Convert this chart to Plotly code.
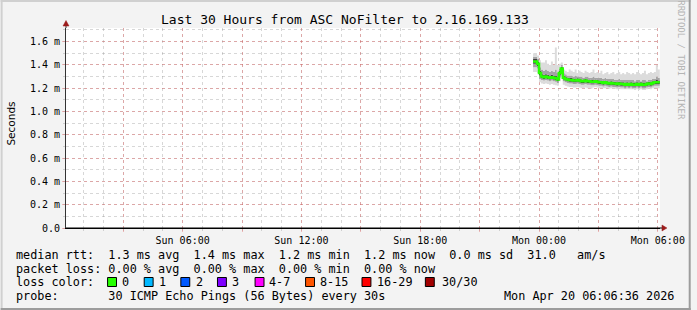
import plotly.graph_objects as go
import pandas as pd

# ---------------- data (milliseconds) ----------------
times = pd.date_range("2026-04-19 23:42", periods=65, freq="6min")

rtt_median = [1.43, 1.43, 1.41, 1.33, 1.30, 1.295, 1.30, 1.295, 1.29, 1.295,
              1.29, 1.285, 1.275, 1.33, 1.37, 1.29, 1.28, 1.275, 1.27, 1.27,
              1.265, 1.265, 1.27, 1.265, 1.26, 1.26, 1.265, 1.26, 1.26, 1.255,
              1.255, 1.26, 1.255, 1.25, 1.25, 1.245, 1.25, 1.245, 1.24, 1.245,
              1.24, 1.24, 1.235, 1.24, 1.235, 1.235, 1.23, 1.235, 1.23, 1.235,
              1.23, 1.23, 1.235, 1.23, 1.235, 1.23, 1.23, 1.235, 1.24, 1.235,
              1.245, 1.25, 1.25, 1.25, 1.25]

rtt_max = [1.50, 1.50, 1.48, 1.44, 1.42, 1.42, 1.44, 1.41, 1.40, 1.43,
           1.40, 1.55, 1.40, 1.41, 1.42, 1.36, 1.35, 1.34, 1.36, 1.35,
           1.34, 1.36, 1.33, 1.35, 1.34, 1.33, 1.35, 1.34, 1.33, 1.34,
           1.36, 1.33, 1.34, 1.33, 1.35, 1.32, 1.33, 1.34, 1.32, 1.33,
           1.34, 1.32, 1.33, 1.34, 1.32, 1.33, 1.32, 1.34, 1.33, 1.32,
           1.33, 1.32, 1.34, 1.33, 1.32, 1.33, 1.35, 1.32, 1.33, 1.34,
           1.33, 1.34, 1.40, 1.36, 1.33]

rtt_p90 = [1.47, 1.47, 1.45, 1.38, 1.36, 1.35, 1.36, 1.35, 1.34, 1.35,
           1.34, 1.36, 1.33, 1.37, 1.40, 1.33, 1.32, 1.31, 1.31, 1.31,
           1.30, 1.31, 1.30, 1.30, 1.30, 1.29, 1.30, 1.30, 1.29, 1.29,
           1.30, 1.29, 1.29, 1.29, 1.29, 1.28, 1.29, 1.28, 1.28, 1.28,
           1.28, 1.27, 1.27, 1.28, 1.27, 1.27, 1.27, 1.27, 1.27, 1.27,
           1.27, 1.26, 1.27, 1.27, 1.26, 1.27, 1.27, 1.26, 1.27, 1.27,
           1.28, 1.28, 1.30, 1.29, 1.28]

rtt_p75 = [1.45, 1.45, 1.43, 1.35, 1.32, 1.315, 1.32, 1.315, 1.31, 1.315,
           1.31, 1.31, 1.30, 1.35, 1.385, 1.31, 1.30, 1.29, 1.29, 1.29,
           1.28, 1.28, 1.285, 1.28, 1.275, 1.275, 1.28, 1.275, 1.275, 1.27,
           1.27, 1.275, 1.27, 1.265, 1.265, 1.26, 1.265, 1.26, 1.255, 1.26,
           1.255, 1.255, 1.25, 1.255, 1.25, 1.25, 1.245, 1.25, 1.245, 1.25,
           1.245, 1.245, 1.25, 1.245, 1.25, 1.245, 1.245, 1.25, 1.255, 1.25,
           1.26, 1.265, 1.27, 1.265, 1.265]

rtt_p25 = [1.41, 1.41, 1.39, 1.31, 1.285, 1.28, 1.285, 1.28, 1.275, 1.28,
           1.275, 1.27, 1.26, 1.31, 1.35, 1.275, 1.265, 1.26, 1.255, 1.255,
           1.25, 1.25, 1.255, 1.25, 1.245, 1.245, 1.25, 1.245, 1.245, 1.24,
           1.24, 1.245, 1.24, 1.235, 1.235, 1.23, 1.235, 1.23, 1.225, 1.23,
           1.225, 1.225, 1.22, 1.225, 1.22, 1.22, 1.215, 1.22, 1.215, 1.22,
           1.215, 1.215, 1.22, 1.215, 1.22, 1.215, 1.215, 1.22, 1.225, 1.22,
           1.23, 1.235, 1.235, 1.235, 1.235]

rtt_p10 = [1.38, 1.38, 1.37, 1.28, 1.27, 1.265, 1.27, 1.265, 1.26, 1.265,
           1.26, 1.255, 1.245, 1.29, 1.33, 1.26, 1.25, 1.245, 1.24, 1.24,
           1.235, 1.235, 1.24, 1.235, 1.23, 1.23, 1.235, 1.23, 1.23, 1.225,
           1.225, 1.23, 1.225, 1.22, 1.22, 1.215, 1.22, 1.215, 1.21, 1.215,
           1.21, 1.21, 1.205, 1.21, 1.205, 1.205, 1.20, 1.205, 1.20, 1.205,
           1.20, 1.20, 1.205, 1.20, 1.205, 1.20, 1.20, 1.205, 1.21, 1.205,
           1.215, 1.22, 1.22, 1.22, 1.22]

rtt_min = [1.34, 1.34, 1.33, 1.25, 1.24, 1.235, 1.24, 1.235, 1.23, 1.235,
           1.23, 1.225, 1.22, 1.26, 1.30, 1.23, 1.22, 1.215, 1.21, 1.21,
           1.205, 1.205, 1.21, 1.205, 1.20, 1.20, 1.205, 1.20, 1.20, 1.195,
           1.205, 1.21, 1.205, 1.20, 1.20, 1.20, 1.20, 1.20, 1.195, 1.20,
           1.195, 1.195, 1.19, 1.195, 1.19, 1.19, 1.19, 1.19, 1.19, 1.19,
           1.19, 1.185, 1.19, 1.185, 1.19, 1.185, 1.185, 1.19, 1.195, 1.19,
           1.20, 1.20, 1.20, 1.20, 1.20]

y_tickvals = [0.0, 0.2, 0.4, 0.6, 0.8, 1.0, 1.2, 1.4, 1.6]
y_ticktext = ["0.0", "0.2 m", "0.4 m", "0.6 m", "0.8 m", "1.0 m", "1.2 m", "1.4 m", "1.6 m"]

x_tickvals = ["2026-04-19 03:00", "2026-04-19 06:00", "2026-04-19 09:00", "2026-04-19 12:00",
              "2026-04-19 15:00", "2026-04-19 18:00", "2026-04-19 21:00", "2026-04-20 00:00",
              "2026-04-20 03:00", "2026-04-20 06:00"]
x_ticktext = ["", "Sun 06:00", "", "Sun 12:00", "", "Sun 18:00", "", "Mon 00:00", "", "Mon 06:00"]

title_text = "Last 30 Hours from ASC NoFilter to 2.16.169.133"
legend_lines = [
    "median rtt:  1.3 ms avg  1.4 ms max  1.2 ms min  1.2 ms now  0.0 ms sd  31.0   am/s",
    "packet loss: 0.00 % avg  0.00 % max  0.00 % min  0.00 % now",
    "loss color:",
    "probe:       30 ICMP Echo Pings (56 Bytes) every 30s",
]
loss_labels = ["0", "1", "2", "3", "4-7", "8-15", "16-29", "30/30"]
loss_colors = ["#26ff00", "#00b8ff", "#0059ff", "#7e00ff", "#ff00ff", "#ff5500", "#ff0000", "#a10000"]
timestamp = "Mon Apr 20 06:06:36 2026"

# ---------------- layout geometry ----------------
W, H = 697, 310
ML, MR, MT, MB = 66, 31, 28, 82
PW, PH = W - ML - MR, H - MT - MB


def fx(x):
    return (x - ML) / PW


def fy(y):
    return 1 - (y - MT) / PH


MONO = "DejaVu Sans Mono"

fig = go.Figure()

# smoke bands
bands = [(rtt_min, None, None), (rtt_p10, "#dcdcdc", "tonexty"), (rtt_p25, "#a4a4a4", "tonexty"),
         (rtt_p75, "#404040", "tonexty"), (rtt_p90, "#a4a4a4", "tonexty"), (rtt_max, "#dcdcdc", "tonexty")]
for vals, col, fill in bands:
    fig.add_trace(go.Scatter(x=times, y=vals, mode="lines", line=dict(width=0, shape="hv"),
                             fill=fill, fillcolor=col, hoverinfo="skip", showlegend=False))

fig.add_trace(go.Scatter(x=times, y=rtt_median, mode="lines",
                         line=dict(color="#26ff00", width=2.5, shape="hv"),
                         hoverinfo="skip", showlegend=False))

major_grid = "rgba(230,90,90,0.38)"
minor_grid = "rgba(140,140,140,0.35)"

fig.update_layout(
    width=W, height=H,
    margin=dict(l=ML, r=MR, t=MT, b=MB, pad=0),
    paper_bgcolor="#f3f3f3", plot_bgcolor="#ffffff",
    showlegend=False,
    xaxis=dict(type="date", range=["2026-04-19 00:06:36", "2026-04-20 06:06:36"],
               tickmode="array", tickvals=x_tickvals, ticktext=x_ticktext,
               showgrid=True, gridcolor=major_grid, griddash="dot", gridwidth=1,
               ticks="outside", ticklen=3, tickcolor=major_grid,
               tickfont=dict(family=MONO, size=10, color="#000"),
               showline=True, linecolor="#000", linewidth=1, zeroline=False,
               minor=dict(tickmode="linear", tick0="2026-04-19 00:00", dtick=3600000,
                          showgrid=True, gridcolor=minor_grid, griddash="dot", gridwidth=1,
                          ticks="outside", ticklen=2, tickcolor=minor_grid)),
    yaxis=dict(range=[0, 1.7167], tickmode="array", tickvals=y_tickvals, ticktext=y_ticktext,
               showgrid=True, gridcolor=major_grid, griddash="dot", gridwidth=1,
               ticks="outside", ticklen=3, tickcolor=major_grid,
               tickfont=dict(family=MONO, size=10, color="#000"),
               showline=True, linecolor="#333", linewidth=1, zeroline=False,
               minor=dict(tickmode="linear", tick0=0, dtick=0.1,
                          showgrid=True, gridcolor=minor_grid, griddash="dot", gridwidth=1,
                          ticks="outside", ticklen=2, tickcolor=minor_grid)),
)

shapes = []
# frame of the canvas
shapes.append(dict(type="rect", xref="paper", yref="paper", x0=fx(0), x1=fx(W), y0=fy(0), y1=fy(2),
                   fillcolor="#d0d0d0", line=dict(width=0), layer="above"))
shapes.append(dict(type="rect", xref="paper", yref="paper", x0=fx(0), x1=fx(2), y0=fy(0), y1=fy(H),
                   fillcolor="#d0d0d0", line=dict(width=0), layer="above"))
shapes.append(dict(type="rect", xref="paper", yref="paper", x0=fx(0), x1=fx(W), y0=fy(H - 2), y1=fy(H),
                   fillcolor="#9c9c9c", line=dict(width=0), layer="above"))
shapes.append(dict(type="rect", xref="paper", yref="paper", x0=fx(W - 2), x1=fx(W), y0=fy(0), y1=fy(H),
                   fillcolor="#9c9c9c", line=dict(width=0), layer="above"))
# axis extensions and arrows
shapes.append(dict(type="line", xref="paper", yref="paper", x0=fx(ML), x1=fx(669), y0=0, y1=0,
                   line=dict(color="#000", width=1), layer="above"))
shapes.append(dict(type="line", xref="paper", yref="paper", x0=0, x1=0, y0=1, y1=fy(23),
                   line=dict(color="#333", width=1), layer="above"))
shapes.append(dict(type="path", xref="paper", yref="paper",
                   path=f"M {fx(668)} {fy(225)} L {fx(673)} {fy(228)} L {fx(668)} {fy(231)} Z",
                   fillcolor="#9b1b1b", line=dict(color="#9b1b1b", width=0.5), layer="above"))
shapes.append(dict(type="path", xref="paper", yref="paper",
                   path=f"M {fx(63)} {fy(26)} L {fx(66)} {fy(20.5)} L {fx(69)} {fy(26)} Z",
                   fillcolor="#9b1b1b", line=dict(color="#9b1b1b", width=0.5), layer="above"))

# loss color boxes
box_x = [108, 145, 182, 219, 257, 308, 365, 429]
lab_x = [121, 158, 195, 232, 269, 321, 378, 444]
for bx, col in zip(box_x, loss_colors):
    shapes.append(dict(type="rect", xref="paper", yref="paper", x0=fx(bx), x1=fx(bx + 9),
                       y0=fy(277.5), y1=fy(286.5), fillcolor=col, line=dict(color="#000", width=1),
                       layer="above"))
fig.update_layout(shapes=shapes)


def nb(s):
    return s.replace(" ", "\u00a0")


ann = []
ann.append(dict(text=nb(title_text), x=fx(348), y=fy(19), xref="paper", yref="paper",
                showarrow=False, xanchor="center", yanchor="middle",
                font=dict(family=MONO, size=13, color="#000")))
ann.append(dict(text="Seconds", x=fx(10), y=fy(124), xref="paper", yref="paper", textangle=-90,
                showarrow=False, xanchor="center", yanchor="middle",
                font=dict(family="DejaVu Sans", size=10.5, color="#000")))
ann.append(dict(text=nb("RRDTOOL / TOBI OETIKER"), x=fx(687), y=fy(60), xref="paper", yref="paper",
                textangle=90, showarrow=False, xanchor="center", yanchor="middle",
                font=dict(family=MONO, size=9, color="#b4b4b4")))
row_y = [254.5, 268.5, 282.3, 296.2]
for txt, ry in zip(legend_lines, row_y):
    ann.append(dict(text=nb(txt), x=fx(13.5), y=fy(ry), xref="paper", yref="paper",
                    showarrow=False, xanchor="left", yanchor="middle",
                    font=dict(family=MONO, size=11.8, color="#000")))
for lx, lab in zip(lab_x, loss_labels):
    ann.append(dict(text=nb(lab), x=fx(lx), y=fy(282.3), xref="paper", yref="paper",
                    showarrow=False, xanchor="left", yanchor="middle",
                    font=dict(family=MONO, size=11.8, color="#000")))
ann.append(dict(text=nb(timestamp), x=fx(682), y=fy(296.2), xref="paper", yref="paper",
                showarrow=False, xanchor="right", yanchor="middle",
                font=dict(family=MONO, size=11.8, color="#000")))
fig.update_layout(annotations=ann)

fig.write_html("out.html")
